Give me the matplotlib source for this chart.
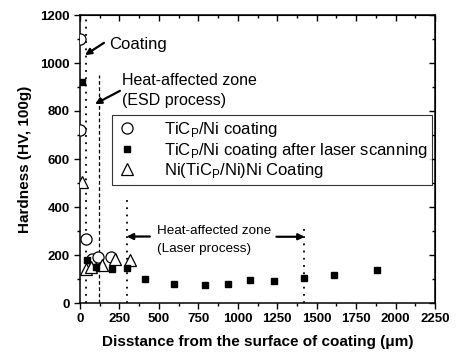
import matplotlib
matplotlib.use("Agg")
import matplotlib.pyplot as plt
from matplotlib.ticker import MultipleLocator

plt.rcParams['font.family'] = ['Liberation Sans', 'DejaVu Sans']
plt.rcParams['mathtext.fontset'] = 'custom'
plt.rcParams['mathtext.rm'] = 'Liberation Sans'

# Data
coat_x = [0, 0, 40, 75, 115, 195]
coat_y = [1100, 720, 265, 185, 190, 190]
laser_x = [15, 45, 100, 205, 295, 415, 595, 795, 935, 1080, 1230, 1420, 1610, 1880]
laser_y = [920, 180, 150, 142, 145, 100, 78, 75, 80, 95, 90, 105, 115, 138]
ni_x = [12, 35, 70, 140, 220, 320]
ni_y = [505, 140, 148, 158, 185, 178]

labels = [r'TiC$_\mathregular{P}$/Ni coating',
          r'TiC$_\mathregular{P}$/Ni coating after laser scanning',
          r'Ni(TiC$_\mathregular{P}$/Ni)Ni Coating']

fig = plt.figure(figsize=(4.59, 3.56), dpi=100)
ax = fig.add_axes([80/459, 1-303/356, 355/459, 288/356])

# zone boundary lines
ax.plot([35, 35], [0, 1200], color='black', ls=(0, (1, 3)), lw=1.3)
ax.plot([120, 120], [0, 950], color='black', ls=(0, (3, 2)), lw=0.9)
ax.plot([300, 300], [0, 440], color='black', ls=(0, (1, 3)), lw=1.3)
ax.plot([1420, 1420], [0, 310], color='black', ls=(0, (1, 3)), lw=1.3)

ax.plot(coat_x, coat_y, 'o', mfc='white', mec='black', ms=8, mew=0.9, label=labels[0], zorder=3)
ax.plot(laser_x, laser_y, 's', mfc='black', mec='black', ms=5, label=labels[1], zorder=4)
ax.plot(ni_x, ni_y, '^', mfc='white', mec='black', ms=9, mew=0.9, label=labels[2], zorder=3)

ax.set_xlim(0, 2250)
ax.set_ylim(0, 1200)
ax.xaxis.set_major_locator(MultipleLocator(250))
ax.xaxis.set_minor_locator(MultipleLocator(125))
ax.yaxis.set_major_locator(MultipleLocator(200))
ax.yaxis.set_minor_locator(MultipleLocator(100))
ax.tick_params(which='major', direction='out', length=4, width=1, labelsize=9.5)
ax.tick_params(which='minor', direction='out', length=2, width=1)
for lab in ax.get_xticklabels() + ax.get_yticklabels():
    lab.set_fontweight('bold')
for s in ax.spines.values():
    s.set_linewidth(1.1)

secx = ax.secondary_xaxis('top')
secx.xaxis.set_major_locator(MultipleLocator(250))
secx.xaxis.set_minor_locator(MultipleLocator(125))
secx.tick_params(which='major', direction='in', length=4, width=1, labeltop=False)
secx.tick_params(which='minor', direction='in', length=2, width=1)
secy = ax.secondary_yaxis('right')
secy.yaxis.set_major_locator(MultipleLocator(200))
secy.yaxis.set_minor_locator(MultipleLocator(100))
secy.tick_params(which='major', direction='in', length=4, width=1, labelright=False)
secy.tick_params(which='minor', direction='in', length=2, width=1)

ax.set_xlabel('Disstance from the surface of coating (\u03bcm)', fontsize=11, fontweight='bold', labelpad=7)
ax.set_ylabel('Hardness (HV, 100g)', fontsize=11, fontweight='bold', labelpad=6)

leg = ax.legend(loc='upper left', bbox_to_anchor=(0.09, 0.652), borderaxespad=0,
                fontsize=12, frameon=True, fancybox=False, edgecolor='black',
                handlelength=1.2, handletextpad=1.6, labelspacing=0.08, borderpad=0.3)
leg.get_frame().set_linewidth(0.8)

ap = dict(arrowstyle='-|>', lw=1.6, color='black', mutation_scale=9, shrinkA=0, shrinkB=0)
ax.annotate('', xy=(32, 1033), xytext=(152, 1084), arrowprops=ap)
ax.text(184, 1075, 'Coating', fontsize=12, va='center', ha='left')
ax.annotate('', xy=(95, 829), xytext=(253, 884), arrowprops=ap)
ax.text(264, 929, 'Heat-affected zone', fontsize=11.5, va='center', ha='left')
ax.text(264, 845, '(ESD process)', fontsize=11.5, va='center', ha='left')
ax.annotate('', xy=(296, 277), xytext=(443, 277), arrowprops=ap)
ax.annotate('', xy=(1424, 276), xytext=(1245, 276), arrowprops=ap)
ax.text(485, 301, 'Heat-affected zone', fontsize=9.7, va='center', ha='left')
ax.text(485, 226, '(Laser process)', fontsize=9.7, va='center', ha='left')

fig.savefig('out.png', dpi=100)
